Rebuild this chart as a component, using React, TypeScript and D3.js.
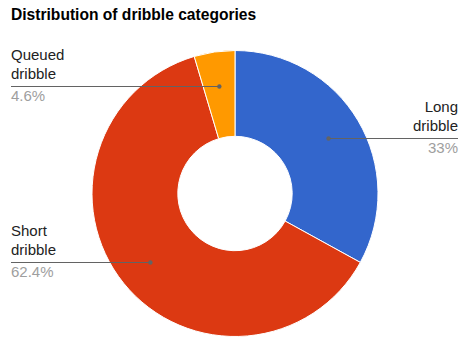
import React from "react";
import * as d3 from "d3";

const categories = ["Long dribble", "Short dribble", "Queued dribble"];
const nameLines = [["Long", "dribble"], ["Short", "dribble"], ["Queued", "dribble"]];
const values = [33, 62.4, 4.6];
const pctLabels = ["33%", "62.4%", "4.6%"];
const colors = ["#3366cc", "#dc3912", "#ff9900"];

const W = 459;
const H = 338;
const cx = 235;
const cy = 193.5;
const R = 143;
const hole = 0.4;

export default function App() {
  const pie = d3.pie<number>().sort(null).value((d) => d);
  const arcs = pie(values);
  const arcGen = d3.arc<d3.PieArcDatum<number>>().innerRadius(R * hole).outerRadius(R);
  const font = "Arial, 'Liberation Sans', sans-serif";

  return (
    <div style={{ position: "absolute", left: 0, top: 0 }}>
      <svg width={W} height={H} style={{ display: "block" }}>
        <rect width={W} height={H} fill="#ffffff" />
        <text x={11} y={20} fontFamily={font} fontWeight="bold" fontSize={15.6} fill="#000000">
          Distribution of dribble categories
        </text>
        <g transform={`translate(${cx},${cy})`}>
          {arcs.map((a, i) => (
            <path key={categories[i]} d={arcGen(a) || ""} fill={colors[i]} stroke="#ffffff" strokeWidth={1} />
          ))}
        </g>
        {arcs.map((a, i) => {
          const mid = (a.startAngle + a.endAngle) / 2;
          const dr = R * 0.76;
          const dx = cx + dr * Math.sin(mid);
          const dy = cy - dr * Math.cos(mid);
          const right = dx > cx;
          const ly = Math.round(dy) + 0.5;
          const tx = right ? 458 : 11;
          const anchor = right ? "end" : "start";
          return (
            <g key={"lbl" + i}>
              <line x1={tx} y1={ly} x2={dx} y2={ly} stroke="#636363" strokeWidth={1} />
              <circle cx={dx} cy={ly} r={2.2} fill="#636363" />
              <text x={tx} y={ly - 27} textAnchor={anchor} fontFamily={font} fontSize={15} fill="#222222">
                {nameLines[i][0]}
              </text>
              <text x={tx} y={ly - 8} textAnchor={anchor} fontFamily={font} fontSize={15} fill="#222222">
                {nameLines[i][1]}
              </text>
              <text x={tx} y={ly + 14} textAnchor={anchor} fontFamily={font} fontSize={15} fill="#9e9e9e">
                {pctLabels[i]}
              </text>
            </g>
          );
        })}
      </svg>
    </div>
  );
}
